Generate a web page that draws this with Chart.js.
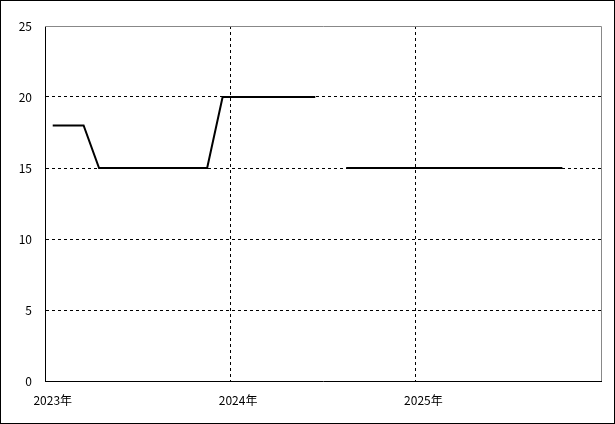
<!DOCTYPE html>
<html>
<head>
<meta charset="utf-8">
<script src="https://cdn.jsdelivr.net/npm/chart.js@4/dist/chart.umd.min.js"></script>
<style>
  html, body { margin: 0; padding: 0; background: #fff; }
  #wrap { width: 615px; height: 424px; }
</style>
</head>
<body>
<div id="wrap"><canvas id="chart" width="615" height="424"></canvas></div>
<script>
// 月ごとのカテゴリ (2023年1月〜2025年12月)
const years = ['2023', '2024', '2025'];
const months = [];
years.forEach(y => { for (let m = 1; m <= 12; m++) months.push(y + '-' + m); });

// 値 (null は欠測)
const values = [
  18, 18, 18, 15, 15, 15, 15, 15, 15, 15, 15, 20,
  20, 20, 20, 20, 20, 20, null, 15, 15, 15, 15, 15,
  15, 15, 15, 15, 15, 15, 15, 15, 15, 15, null, null
];

const yTicks = [0, 5, 10, 15, 20, 25];

// 外枠と描画領域の上・右の枠
const frame = {
  id: 'frame',
  afterDraw(chart) {
    const { ctx, chartArea: a } = chart;
    ctx.save();
    ctx.strokeStyle = '#888';
    ctx.lineWidth = 1;
    ctx.beginPath();
    ctx.moveTo(a.left, a.top + 0.5);
    ctx.lineTo(a.right + 0.5, a.top + 0.5);
    ctx.lineTo(a.right + 0.5, a.bottom);
    ctx.stroke();
    ctx.strokeStyle = '#000';
    ctx.strokeRect(0.5, 0.5, chart.width - 1, chart.height - 1);
    ctx.restore();
  }
};

new Chart(document.getElementById('chart'), {
  type: 'line',
  data: {
    labels: months,
    datasets: [{
      data: values,
      borderColor: '#000',
      borderWidth: 2,
      pointRadius: 0,
      tension: 0,
      spanGaps: false,
      fill: false
    }]
  },
  options: {
    responsive: false,
    animation: false,
    layout: { padding: { left: 0, top: 26, right: 14, bottom: 0 } },
    plugins: { legend: { display: false }, tooltip: { enabled: false } },
    scales: {
      x: {
        type: 'category',
        offset: true,
        afterFit(scale) { scale.height = 43; },
        grid: {
          offset: true,
          drawTicks: false,
          color: c => (c.index > 0 && c.index < months.length && c.index % 12 === 0) ? '#000' : 'rgba(0,0,0,0)',
          lineWidth: 1
        },
        border: { color: '#000', width: 1, dash: [3, 3] },
        ticks: {
          autoSkip: false,
          maxRotation: 0,
          padding: 12,
          color: '#000',
          font: { family: "'Noto Sans CJK JP', sans-serif", size: 12 },
          callback: (v, i) => i % 12 === 0 ? years[i / 12] + '年' : ''
        }
      },
      y: {
        min: 0,
        max: 25,
        afterFit(scale) { scale.width = 45; },
        afterBuildTicks(scale) { scale.ticks = yTicks.map(v => ({ value: v })); },
        grid: {
          drawTicks: false,
          color: c => (c.tick && c.tick.value > 0 && c.tick.value < 25) ? '#000' : 'rgba(0,0,0,0)',
          lineWidth: 1
        },
        border: { color: '#000', width: 1, dash: [3, 3] },
        ticks: {
          padding: 13,
          color: '#000',
          font: { family: "'Noto Sans CJK JP', sans-serif", size: 12 }
        }
      }
    }
  },
  plugins: [frame]
});
</script>
</body>
</html>
